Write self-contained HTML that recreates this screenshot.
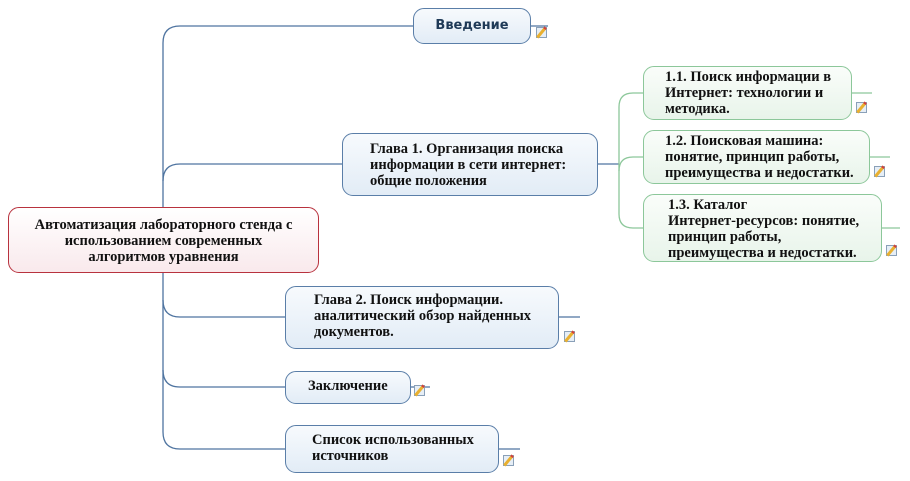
<!DOCTYPE html>
<html><head><meta charset="utf-8"><style>
body{margin:0;width:910px;height:481px;background:#fff;position:relative;overflow:hidden;font-family:"Liberation Serif",serif;}
.n{position:absolute;box-sizing:border-box;border:1.3px solid #5a7ea8;border-radius:11px;background:linear-gradient(#f7fafd,#e2ecf6);font-weight:bold;font-size:14.5px;line-height:16px;color:#111;white-space:nowrap;}
.g{border-color:#8cc79a;background:linear-gradient(#fafdfa,#e8f4ea);}
.r{border-color:#b8323e;background:linear-gradient(#fff,#f9e9ec);text-align:center;}
.ic{position:absolute;width:11px;height:11px;border:1px solid #8aa0b8;background:#e6eef6;box-sizing:border-box;}
.ic:after{content:"";position:absolute;left:3px;top:-2px;width:3px;height:11px;background:#e9b030;transform:rotate(40deg);border-top:2px solid #d04040;}
</style></head><body>
<svg width="910" height="481" style="position:absolute;left:0;top:0">
<g fill="none" stroke="#4f74a0" stroke-width="1.3">
<path d="M413 26 H180 Q163 26 163 43 V432 Q163 449 180 449 H285"/>
<path d="M342 164 H180 Q163 164 163 181"/>
<path d="M285 317 H180 Q163 317 163 300"/>
<path d="M285 387 H180 Q163 387 163 370"/>
<path d="M597 164 H619"/>
<path d="M530 26 H548"/><path d="M558 317 H580"/><path d="M410 387 H430"/><path d="M498 449 H520"/>
</g>
<g fill="none" stroke="#8cc79a" stroke-width="1.3">
<path d="M643 93 H633 Q619 93 619 107 V214 Q619 228 633 228 H643"/>
<path d="M643 157 H633 Q619 157 619 171"/>
<path d="M851 93 H872"/><path d="M869 157 H890"/><path d="M881 228 H900"/>
</g>
</svg>
<div class="n r" style="left:8px;top:207px;width:311px;height:66px;padding-top:9px">Автоматизация лабораторного стенда с<br>использованием современных<br>алгоритмов уравнения</div>
<div class="n" style="left:413px;top:8px;width:118px;height:36px;font-family:'DejaVu Sans',sans-serif;font-size:13px;color:#1f3a57;text-align:center;line-height:34px">Введение</div>
<div class="ic" style="left:536px;top:27px"></div>
<div class="n" style="left:342px;top:133px;width:256px;height:63px;padding:7px 0 0 27px">Глава 1. Организация поиска<br>информации в сети интернет:<br>общие положения</div>
<div class="n g" style="left:643px;top:66px;width:209px;height:54px;padding:2px 0 0 21px">1.1. Поиск информации в<br>Интернет: технологии и<br>методика.</div>
<div class="ic" style="left:856px;top:102px"></div>
<div class="n g" style="left:643px;top:130px;width:227px;height:54px;padding:2px 0 0 21px">1.2. Поисковая машина:<br>понятие, принцип работы,<br>преимущества и недостатки.</div>
<div class="ic" style="left:874px;top:166px"></div>
<div class="n g" style="left:643px;top:194px;width:239px;height:68px;padding:2px 0 0 24px">1.3. Каталог<br>Интернет-ресурсов: понятие,<br>принцип работы,<br>преимущества и недостатки.</div>
<div class="ic" style="left:886px;top:245px"></div>
<div class="n" style="left:285px;top:286px;width:274px;height:63px;padding:5px 0 0 28px">Глава 2. Поиск информации.<br>аналитический обзор найденных<br>документов.</div>
<div class="ic" style="left:564px;top:331px"></div>
<div class="n" style="left:285px;top:371px;width:126px;height:33px;padding:6px 0 0 22px">Заключение</div>
<div class="ic" style="left:414px;top:385px"></div>
<div class="n" style="left:285px;top:425px;width:214px;height:48px;padding:6px 0 0 26px">Список использованных<br>источников</div>
<div class="ic" style="left:503px;top:455px"></div>
</body></html>
